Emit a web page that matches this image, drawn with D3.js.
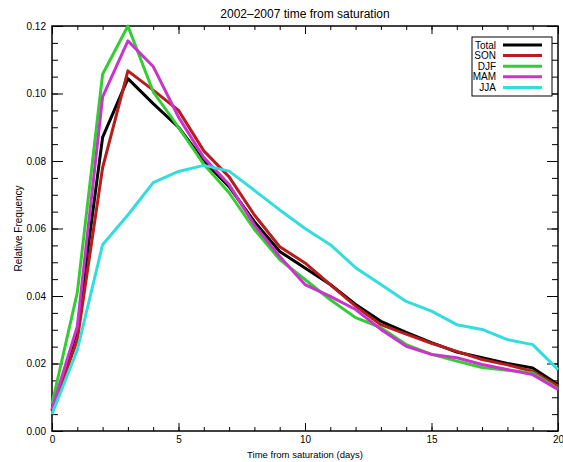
<!DOCTYPE html>
<meta charset="utf-8">
<script src="https://d3js.org/d3.v7.min.js"></script>
<style>
body { margin: 0; background: #fff; }
text { font-family: "Liberation Sans", Arial, sans-serif; fill: #000; }
</style>
<div id="chart"></div>
<script>
// days since saturation
var days = d3.range(0, 21);

// relative frequency, one list per season
var total = [0.006, 0.030, 0.087, 0.1044, 0.097, 0.090, 0.080, 0.0724, 0.062, 0.0532, 0.0483, 0.0434, 0.0375, 0.0325, 0.0292, 0.0262, 0.0234, 0.0217, 0.0200, 0.0187, 0.0138];
var son   = [0.006, 0.027, 0.078, 0.1067, 0.101, 0.095, 0.083, 0.0753, 0.064, 0.0546, 0.0498, 0.0434, 0.0370, 0.0315, 0.0287, 0.0260, 0.0236, 0.0212, 0.0196, 0.0177, 0.0133];
var djf   = [0.008, 0.041, 0.1057, 0.120, 0.1005, 0.090, 0.079, 0.0706, 0.0597, 0.0508, 0.0449, 0.0389, 0.0336, 0.0306, 0.0256, 0.0227, 0.0207, 0.0188, 0.0180, 0.0172, 0.0125];
var mam   = [0.0065, 0.031, 0.099, 0.1156, 0.108, 0.093, 0.081, 0.073, 0.061, 0.0517, 0.0434, 0.0399, 0.0360, 0.0301, 0.0251, 0.0227, 0.0217, 0.0197, 0.0182, 0.0167, 0.0123];
var jja   = [0.005, 0.024, 0.0552, 0.064, 0.0736, 0.0769, 0.0787, 0.0770, 0.0713, 0.0655, 0.0600, 0.0552, 0.0484, 0.0434, 0.0384, 0.0355, 0.0315, 0.0301, 0.0271, 0.0256, 0.0182];

var names  = ["Total", "SON", "DJF", "MAM", "JJA"];
var colors = ["#000000", "#b81c1c", "#33cc33", "#cc33cc", "#33dddd"];
var seriesList = [total, son, djf, mam, jja];

var xTicks = [0, 5, 10, 15, 20];
var yTicks = [0, 0.02, 0.04, 0.06, 0.08, 0.10, 0.12];

var W = 563, H = 462;
var margin = {top: 26, right: 5, bottom: 31, left: 52},
    width = W - margin.left - margin.right,
    height = H - margin.top - margin.bottom;

var svg = d3.select("#chart").append("svg")
    .attr("width", W)
    .attr("height", H);

var g = svg.append("g")
    .attr("transform", "translate(" + margin.left + "," + margin.top + ")");

var x = d3.scaleLinear().domain([0, 20]).range([0, width]);
var y = d3.scaleLinear().domain([0, 0.12]).range([height, 0]);

// minor ticks first, then majors on top
function minor(axis) {
  axis.selectAll("text").remove();
  axis.select(".domain").remove();
}

g.append("g").attr("transform", "translate(0," + height + ")")
  .call(d3.axisTop(x).tickValues(d3.range(0, 21)).tickSize(4).tickFormat(""))
  .call(minor);
g.append("g")
  .call(d3.axisBottom(x).tickValues(d3.range(0, 21)).tickSize(4).tickFormat(""))
  .call(minor);
g.append("g")
  .call(d3.axisRight(y).tickValues(d3.range(0, 0.1201, 0.005)).tickSize(6).tickFormat(""))
  .call(minor);
g.append("g").attr("transform", "translate(" + width + ",0)")
  .call(d3.axisLeft(y).tickValues(d3.range(0, 0.1201, 0.005)).tickSize(6).tickFormat(""))
  .call(minor);

// major ticks
var xb = g.append("g").attr("transform", "translate(0," + height + ")")
  .call(d3.axisTop(x).tickValues(xTicks).tickSize(8).tickFormat(""));
xb.select(".domain").remove();
g.append("g").attr("transform", "translate(0," + height + ")")
  .call(d3.axisBottom(x).tickValues(xTicks).tickSize(0).tickPadding(5).tickFormat(d3.format("d")))
  .call(function(a) { a.select(".domain").remove(); a.selectAll("text").style("font-size", "10px"); });
g.append("g")
  .call(d3.axisBottom(x).tickValues(xTicks).tickSize(8).tickFormat(""))
  .select(".domain").remove();

g.append("g")
  .call(d3.axisRight(y).tickValues(yTicks).tickSize(11).tickFormat(""))
  .select(".domain").remove();
g.append("g")
  .call(d3.axisLeft(y).tickValues(yTicks).tickSize(0).tickPadding(6).tickFormat(d3.format(".2f")))
  .call(function(a) { a.select(".domain").remove(); a.selectAll("text").style("font-size", "10px"); });
g.append("g").attr("transform", "translate(" + width + ",0)")
  .call(d3.axisLeft(y).tickValues(yTicks).tickSize(11).tickFormat(""))
  .select(".domain").remove();

g.selectAll(".tick line").attr("stroke", "#000");

// frame
g.append("rect")
  .attr("width", width).attr("height", height)
  .attr("fill", "none").attr("stroke", "#000").attr("stroke-width", 1.5);

// series lines, drawn in legend order
var line = d3.line()
  .x(function(d, i) { return x(days[i]); })
  .y(function(d) { return y(d); });

seriesList.forEach(function(s, k) {
  g.append("path")
    .datum(s)
    .attr("fill", "none")
    .attr("stroke", colors[k])
    .attr("stroke-width", 3)
    .attr("stroke-linejoin", "round")
    .attr("d", line);
});

// title and axis labels
svg.append("text")
  .attr("x", margin.left + width / 2).attr("y", 18)
  .attr("text-anchor", "middle")
  .style("font-size", "12px")
  .text("2002\u20132007 time from saturation");

svg.append("text")
  .attr("x", margin.left + width / 2).attr("y", 458)
  .attr("text-anchor", "middle")
  .style("font-size", "9.5px")
  .text("Time from saturation (days)");

svg.append("text")
  .attr("transform", "translate(22," + (margin.top + height / 2) + ") rotate(-90)")
  .attr("text-anchor", "middle")
  .style("font-size", "10px")
  .text("Relative Frequency");

// legend
var lg = svg.append("g").attr("transform", "translate(472,37)");
lg.append("rect")
  .attr("width", 80).attr("height", 59)
  .attr("fill", "#fff").attr("stroke", "#000").attr("stroke-width", 1);

names.forEach(function(n, i) {
  var ly = 8 + i * 10.6;
  lg.append("line")
    .attr("x1", 31).attr("x2", 70)
    .attr("y1", ly).attr("y2", ly)
    .attr("stroke", colors[i]).attr("stroke-width", 3);
  lg.append("text")
    .attr("x", 24).attr("y", ly + 3.5)
    .attr("text-anchor", "end")
    .style("font-size", "10px")
    .text(n);
});
</script>
